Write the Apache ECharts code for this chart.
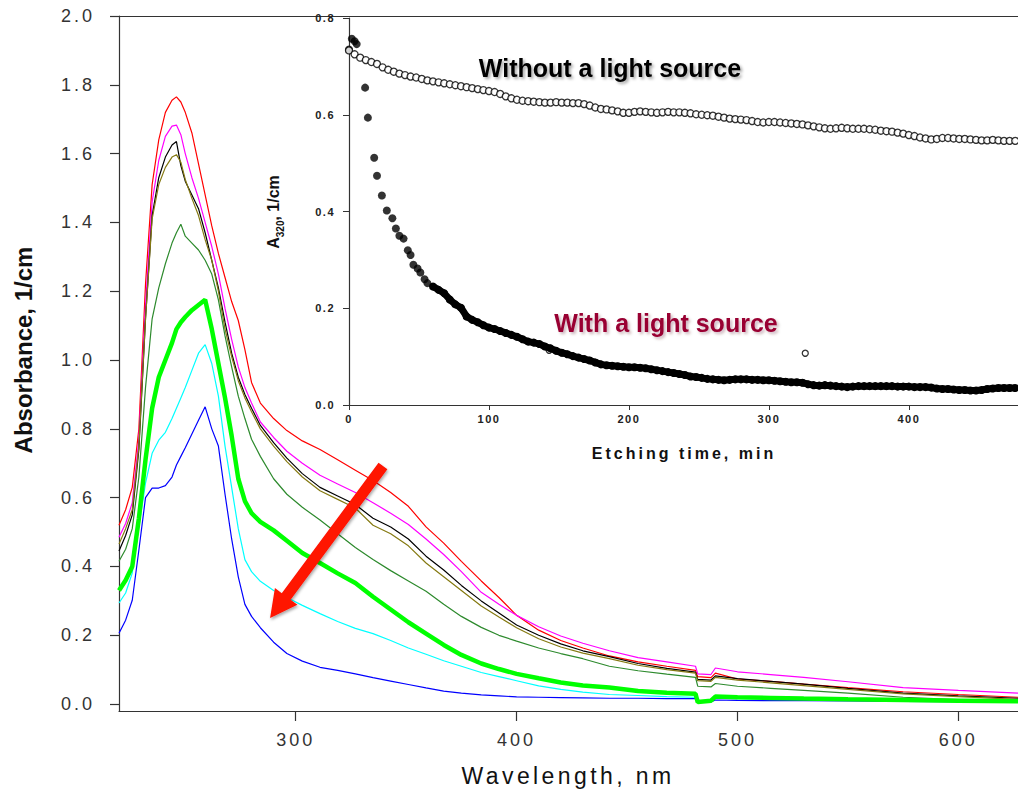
<!DOCTYPE html>
<html>
<head>
<meta charset="utf-8">
<script src="https://cdn.jsdelivr.net/npm/echarts@6.0.0/dist/echarts.min.js"></script>
<style>
html, body { margin: 0; padding: 0; background: #fff; }
#chart { width: 1018px; height: 792px; }
#chart text[style*="ls1"], #chart text[font-family*="ls1"] { letter-spacing: 1.5px; }
#chart text[style*="ls3"], #chart text[font-family*="ls3"] { letter-spacing: 3px; }
#chart text[style*="ls4"], #chart text[font-family*="ls4"] { letter-spacing: 3.4px; }
</style>
</head>
<body>
<div id="chart"></div>
<script>
// ---------------- Main chart data (absorbance spectra) ----------------
const wavelengths = [220,223,226,229,232,235,238,241,244,246,248,250,253,256,259,262,265,268,271,274,277,280,284,290,296,303,311,319,327,335,343,351,359,367,375,384,392,400,410,420,430,442,455,468,481,482,488,490,500,515,530,550,575,600,627];

const absRed = [0.52,0.565,0.63,0.80,1.22,1.51,1.64,1.72,1.755,1.765,
  1.75,1.72,1.66,1.57,1.48,1.39,1.31,1.24,1.17,1.115,
  1.03,0.935,0.875,0.83,0.795,0.765,0.74,0.71,0.68,0.65,
  0.615,0.575,0.515,0.468,0.415,0.358,0.31,0.258,0.215,0.185,
  0.163,0.14,0.123,0.11,0.098,0.08,0.077,0.09,0.073,0.066,
  0.058,0.048,0.036,0.028,0.02];
const absMagenta = [0.485,0.525,0.585,0.77,1.16,1.46,1.58,1.65,1.68,1.683,
  1.655,1.60,1.53,1.47,1.40,1.33,1.25,1.15,1.06,0.98,
  0.92,0.875,0.82,0.775,0.735,0.70,0.665,0.64,0.615,0.585,
  0.555,0.522,0.48,0.435,0.385,0.325,0.29,0.258,0.225,0.198,
  0.177,0.155,0.135,0.123,0.11,0.088,0.086,0.105,0.094,0.086,
  0.078,0.065,0.048,0.04,0.032];
const absBlack = [0.445,0.49,0.55,0.74,1.12,1.42,1.53,1.59,1.625,1.635,
  1.565,1.52,1.48,1.44,1.37,1.29,1.21,1.11,1.02,0.95,
  0.90,0.86,0.81,0.76,0.715,0.67,0.63,0.605,0.58,0.54,
  0.515,0.48,0.43,0.39,0.345,0.30,0.265,0.23,0.20,0.175,
  0.155,0.138,0.118,0.104,0.093,0.072,0.07,0.082,0.074,0.066,
  0.058,0.046,0.032,0.024,0.017];
const absOlive = [0.465,0.51,0.565,0.75,1.12,1.41,1.51,1.56,1.59,1.597,
  1.575,1.525,1.47,1.42,1.35,1.29,1.20,1.09,1.01,0.94,
  0.89,0.85,0.80,0.75,0.705,0.66,0.62,0.595,0.57,0.52,
  0.495,0.46,0.41,0.37,0.33,0.285,0.253,0.222,0.19,0.166,
  0.148,0.132,0.113,0.10,0.09,0.068,0.066,0.078,0.07,0.062,
  0.054,0.043,0.03,0.022,0.014];
const absDarkGreen = [0.415,0.45,0.51,0.66,0.92,1.12,1.21,1.28,1.34,1.37,
  1.395,1.36,1.34,1.32,1.29,1.25,1.175,1.07,0.98,0.895,
  0.83,0.77,0.72,0.655,0.61,0.572,0.535,0.495,0.455,0.42,
  0.388,0.358,0.328,0.29,0.255,0.223,0.20,0.183,0.163,0.147,
  0.132,0.11,0.097,0.087,0.078,0.052,0.05,0.06,0.052,0.046,
  0.04,0.032,0.02,0.013,0.01];
const absGreen = [0.33,0.36,0.40,0.54,0.71,0.86,0.95,1.0,1.05,1.09,
  1.11,1.125,1.145,1.16,1.175,1.09,0.99,0.89,0.78,0.655,
  0.59,0.555,0.53,0.505,0.475,0.439,0.41,0.38,0.352,0.312,
  0.275,0.238,0.205,0.172,0.143,0.118,0.102,0.088,0.075,0.063,
  0.054,0.048,0.038,0.033,0.03,0.006,0.01,0.022,0.02,0.018,
  0.016,0.014,0.012,0.01,0.008];
const absCyan = [0.294,0.323,0.381,0.515,0.642,0.729,0.767,0.79,0.83,0.86,
  0.89,0.92,0.97,1.02,1.045,0.99,0.895,0.75,0.63,0.51,
  0.42,0.385,0.357,0.33,0.31,0.287,0.263,0.24,0.22,0.205,
  0.185,0.163,0.145,0.126,0.11,0.092,0.08,0.068,0.053,0.043,
  0.035,0.028,0.025,0.022,0.02,0.008,0.01,0.018,0.016,0.015,
  0.014,0.013,0.012,0.011,0.01];
const absBlue = [0.206,0.244,0.302,0.448,0.60,0.628,0.628,0.635,0.66,0.695,
  0.72,0.745,0.785,0.825,0.864,0.80,0.75,0.61,0.48,0.37,
  0.29,0.255,0.222,0.18,0.147,0.125,0.107,0.098,0.088,0.077,
  0.067,0.057,0.047,0.038,0.032,0.027,0.024,0.021,0.02,0.019,
  0.018,0.017,0.017,0.016,0.016,0.005,0.006,0.012,0.011,0.01,
  0.01,0.009,0.008,0.007,0.006];

const xTicks = [300, 400, 500, 600];
const yTicks = [0.0, 0.2, 0.4, 0.6, 0.8, 1.0, 1.2, 1.4, 1.6, 1.8, 2.0];

// ---------------- Inset data (A320 vs etching time) ----------------
const etchTime = [0,4,8,12,16,20,24,28,32,36,40,44,48,52,56,60,64,68,72,76,80,84,88,92,96,100,104,108,112,116,120,124,128,132,136,140,144,148,152,156,160,164,168,172,176,180,184,188,192,196,200,204,208,212,216,220,224,228,232,236,240,244,248,252,256,260,264,268,272,276,280,284,288,292,296,300,304,308,312,316,320,324,328,332,336,340,344,348,352,356,360,364,368,372,376,380,384,388,392,396,400,404,408,412,416,420,424,428,432,436,440,444,448,452,456,460,464,468,472,476];
const withoutLight = [0.733,0.725,0.718,0.713,0.709,0.705,0.698,0.693,0.689,0.685,
  0.682,0.679,0.677,0.674,0.671,0.669,0.667,0.665,0.663,0.661,
  0.659,0.657,0.655,0.653,0.651,0.649,0.647,0.643,0.638,0.634,
  0.631,0.629,0.628,0.627,0.626,0.625,0.625,0.626,0.625,0.625,
  0.624,0.624,0.622,0.619,0.615,0.612,0.611,0.609,0.607,0.604,
  0.604,0.606,0.607,0.606,0.605,0.604,0.605,0.606,0.605,0.605,
  0.604,0.603,0.601,0.6,0.599,0.598,0.596,0.594,0.592,0.591,
  0.59,0.589,0.587,0.585,0.584,0.585,0.585,0.584,0.583,0.582,
  0.581,0.58,0.578,0.576,0.574,0.572,0.571,0.572,0.573,0.572,
  0.571,0.571,0.571,0.57,0.569,0.567,0.566,0.565,0.563,0.561,
  0.558,0.556,0.553,0.551,0.549,0.55,0.552,0.552,0.551,0.55,
  0.55,0.549,0.548,0.547,0.547,0.548,0.547,0.546,0.546,0.546];
const withLightEarlyTime = [0,2,4,5.5,11.5,13.5,18,20,23.5,27,31,33.5,36,39,42,44,46,49,51,54,56];
const withLightEarly = [0.735,0.757,0.752,0.746,0.656,0.594,0.511,0.474,0.433,0.402,0.386,0.365,0.35,0.344,0.32,0.31,0.29,0.282,0.274,0.26,0.252];
const withLightTime = etchTime.slice(15);
const withLight = [0.245,0.238,0.231,0.218,0.208,0.201,0.183,0.176,0.171,0.165,
  0.16,0.157,0.153,0.149,0.145,0.141,0.136,0.131,0.129,0.126,
  0.121,0.117,0.112,0.108,0.105,0.101,0.098,0.095,0.092,0.088,
  0.084,0.082,0.081,0.08,0.079,0.078,0.078,0.077,0.076,0.074,
  0.072,0.07,0.068,0.066,0.064,0.062,0.059,0.058,0.056,0.054,
  0.053,0.052,0.051,0.052,0.053,0.053,0.053,0.052,0.052,0.051,
  0.051,0.05,0.049,0.048,0.047,0.047,0.046,0.043,0.041,0.04,
  0.041,0.04,0.039,0.038,0.037,0.038,0.039,0.039,0.039,0.039,
  0.039,0.039,0.039,0.038,0.038,0.038,0.037,0.037,0.037,0.036,
  0.034,0.033,0.033,0.032,0.031,0.031,0.03,0.03,0.031,0.033,
  0.034,0.035,0.035,0.035,0.035];
const strayTime = [143, 326];
const strayValue = [0.113, 0.107];
const insetXTicks = [0, 100, 200, 300, 400];

// Arrow annotation, in data units of the main chart
const arrowTail = [339.5, 0.692];
const arrowTip = [288.4, 0.25];

// ---------------- Build chart ----------------
const pair = (xs, ys) => xs.map((x, i) => [x, ys[i]]);
const TICKFONT = "Arial, 'Liberation Sans', sans-serif, ls3";
const INSETFONT = "Arial, 'Liberation Sans', sans-serif, ls1";
const AXC = '#333';

const chart = echarts.init(document.getElementById('chart'), null, { renderer: 'svg', width: 1018, height: 792 });

function spectrum(data, color, width) {
  return {
    type: 'line', xAxisIndex: 0, yAxisIndex: 0,
    data: pair(wavelengths, data),
    symbol: 'none', showSymbol: false, smooth: false,
    lineStyle: { color: color, width: width },
    itemStyle: { color: color },
    emphasis: { disabled: true }, silent: true
  };
}

const option = {
  animation: false,
  backgroundColor: '#ffffff',
  grid: [
    { left: 119, top: 16, right: 0, bottom: 81, containLabel: false, outerBoundsMode: 'none' },
    { left: 349, top: 18, right: 0, bottom: 387, containLabel: false, outerBoundsMode: 'none' }
  ],
  xAxis: [
    {
      gridIndex: 0, type: 'value', min: 220, max: 627, position: 'bottom',
      axisLine: { show: true, onZero: false, lineStyle: { color: AXC, width: 1.2 } },
      axisTick: { show: true, inside: false, length: 10, customValues: xTicks, lineStyle: { color: AXC, width: 1.2 } },
      axisLabel: { show: true, customValues: xTicks, margin: 20, color: AXC, fontSize: 18, fontFamily: TICKFONT },
      splitLine: { show: false }
    },
    {
      gridIndex: 1, type: 'value', min: 0, max: 478, position: 'bottom',
      axisLine: { show: true, onZero: false, lineStyle: { color: AXC, width: 1.2 } },
      axisTick: { show: true, inside: false, length: 5, customValues: insetXTicks, lineStyle: { color: AXC } },
      axisLabel: { show: true, customValues: insetXTicks, margin: 8, color: '#222', fontSize: 11, fontWeight: 'bold', fontFamily: INSETFONT },
      splitLine: { show: false }
    },
    {
      gridIndex: 0, type: 'value', min: 220, max: 627, position: 'top',
      axisLine: { show: true, onZero: false, lineStyle: { color: AXC, width: 1.2 } },
      axisTick: { show: false }, axisLabel: { show: false }, splitLine: { show: false }
    }
  ],
  yAxis: [
    {
      gridIndex: 0, type: 'value', min: -0.02, max: 2.0,
      axisLine: { show: true, onZero: false, lineStyle: { color: AXC, width: 1.2 } },
      axisTick: { show: true, inside: false, length: 9, customValues: yTicks, lineStyle: { color: AXC, width: 1.2 } },
      axisLabel: { show: true, customValues: yTicks, formatter: v => Number(v).toFixed(1), margin: 24, color: AXC, fontSize: 18, fontFamily: TICKFONT },
      splitLine: { show: false }
    },
    {
      gridIndex: 1, type: 'value', min: 0, max: 0.8, interval: 0.2,
      axisLine: { show: true, onZero: false, lineStyle: { color: AXC, width: 1.2 } },
      axisTick: { show: true, inside: false, length: 6, lineStyle: { color: AXC } },
      axisLabel: { show: true, formatter: v => Number(v).toFixed(1), margin: 14, color: '#222', fontSize: 11, fontWeight: 'bold', fontFamily: INSETFONT },
      splitLine: { show: false }
    }
  ],
  series: [
    spectrum(absRed, '#ff0000', 1.2),
    spectrum(absMagenta, '#ff00ff', 1.2),
    spectrum(absBlack, '#000000', 1.2),
    spectrum(absOlive, '#857a12', 1.2),
    spectrum(absDarkGreen, '#2d8a2d', 1.2),
    spectrum(absCyan, '#00ffff', 1.2),
    spectrum(absBlue, '#0000ff', 1.2),
    spectrum(absGreen, '#00ff00', 4.5),
    {
      type: 'line', xAxisIndex: 1, yAxisIndex: 1,
      data: pair(withLightTime, withLight),
      symbol: 'circle', symbolSize: 8, showSymbol: true,
      lineStyle: { color: '#000', width: 7 },
      itemStyle: { color: '#000' }, silent: true, emphasis: { disabled: true }
    },
    {
      type: 'scatter', xAxisIndex: 1, yAxisIndex: 1,
      data: pair(withLightEarlyTime, withLightEarly),
      symbol: 'circle', symbolSize: 8,
      itemStyle: { color: '#000' }, silent: true, emphasis: { disabled: true }
    },
    {
      type: 'scatter', xAxisIndex: 1, yAxisIndex: 1,
      data: pair(etchTime, withoutLight),
      symbol: 'circle', symbolSize: 7,
      itemStyle: { color: '#ffffff', borderColor: '#000', borderWidth: 1.3 }, silent: true, emphasis: { disabled: true }
    },
    {
      type: 'scatter', xAxisIndex: 1, yAxisIndex: 1,
      data: pair(strayTime, strayValue),
      symbol: 'circle', symbolSize: 6,
      itemStyle: { color: '#ffffff', borderColor: '#000', borderWidth: 1.3 }, silent: true, emphasis: { disabled: true }
    }
  ]
};
chart.setOption(option);

// Arrow polygon computed from data coordinates
const pTail = chart.convertToPixel({ gridIndex: 0 }, arrowTail);
const pTip = chart.convertToPixel({ gridIndex: 0 }, arrowTip);
const dx = pTip[0] - pTail[0], dy = pTip[1] - pTail[1];
const len = Math.sqrt(dx * dx + dy * dy);
const ux = dx / len, uy = dy / len;
const nx = -uy, ny = ux;
const shaftHalf = 5.5, headHalf = 14, headLen = 27;
const neck = [pTip[0] - ux * headLen, pTip[1] - uy * headLen];
const arrowPts = [
  [pTail[0] + nx * shaftHalf, pTail[1] + ny * shaftHalf],
  [neck[0] + nx * shaftHalf, neck[1] + ny * shaftHalf],
  [neck[0] + nx * headHalf, neck[1] + ny * headHalf],
  [pTip[0], pTip[1]],
  [neck[0] - nx * headHalf, neck[1] - ny * headHalf],
  [neck[0] - nx * shaftHalf, neck[1] - ny * shaftHalf],
  [pTail[0] - nx * shaftHalf, pTail[1] - ny * shaftHalf]
];

chart.setOption({
  graphic: {
    elements: [
      {
        type: 'polygon', z: 100, silent: true,
        shape: { points: arrowPts },
        style: { fill: '#ff1200', shadowBlur: 3, shadowColor: 'rgba(0,0,0,0.35)', shadowOffsetX: 1, shadowOffsetY: 2 }
      },
      {
        type: 'text', x: 568, y: 776, z: 100, silent: true,
        style: { text: 'Wavelength, nm', fill: '#111', fontSize: 23, fontFamily: "Arial, 'Liberation Sans', sans-serif, ls4", textAlign: 'center', textVerticalAlign: 'middle' }
      },
      {
        type: 'text', x: 23, y: 350, rotation: Math.PI / 2, z: 100, silent: true,
        style: { text: 'Absorbance, 1/cm', fill: '#111', fontSize: 24, fontWeight: 'bold', fontFamily: "Arial, 'Liberation Sans', sans-serif", textAlign: 'center', textVerticalAlign: 'middle' }
      },
      {
        type: 'text', x: 684, y: 453, z: 100, silent: true,
        style: { text: 'Etching time, min', fill: '#111', fontSize: 16, fontWeight: 'bold', fontFamily: "Arial, 'Liberation Sans', sans-serif, ls3", textAlign: 'center', textVerticalAlign: 'middle' }
      },
      {
        type: 'text', x: 273, y: 212, rotation: Math.PI / 2, z: 100, silent: true,
        style: {
          text: '{m|A}{s|320}{m|, 1/cm}', fill: '#111', textAlign: 'center', textVerticalAlign: 'middle',
          rich: {
            m: { fontSize: 16, fontWeight: 'bold', fontFamily: "Arial, 'Liberation Sans', sans-serif", lineHeight: 24, fill: '#111' },
            s: { fontSize: 10, fontWeight: 'bold', fontFamily: "Arial, 'Liberation Sans', sans-serif", lineHeight: 12, verticalAlign: 'bottom', fill: '#111' }
          }
        }
      },
      {
        type: 'text', x: 610, y: 68, z: 100, silent: true,
        style: { text: 'Without a light source', fill: '#000', fontSize: 25, fontWeight: 'bold', fontFamily: "Arial, 'Liberation Sans', sans-serif", textAlign: 'center', textVerticalAlign: 'middle',
          textShadowColor: 'rgba(0,0,0,0.35)', textShadowBlur: 3, textShadowOffsetX: 2, textShadowOffsetY: 2 }
      },
      {
        type: 'text', x: 666, y: 323, z: 100, silent: true,
        style: { text: 'With a light source', fill: '#990033', fontSize: 25, fontWeight: 'bold', fontFamily: "Arial, 'Liberation Sans', sans-serif", textAlign: 'center', textVerticalAlign: 'middle',
          textShadowColor: 'rgba(80,0,20,0.3)', textShadowBlur: 3, textShadowOffsetX: 2, textShadowOffsetY: 2 }
      }
    ]
  }
});
</script>
</body>
</html>
